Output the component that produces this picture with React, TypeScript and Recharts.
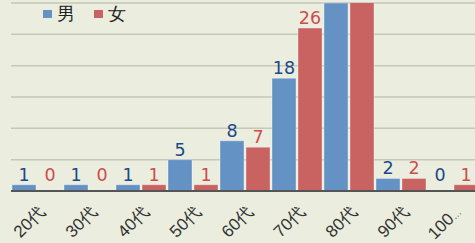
import { BarChart, Bar, XAxis, YAxis, CartesianGrid, LabelList, Legend } from 'recharts'

const categories = ['20代', '30代', '40代', '50代', '60代', '70代', '80代', '90代', '100代以上']
const male = [1, 1, 1, 5, 8, 18, 30, 2, 0]
const female = [0, 0, 1, 1, 7, 26, 34, 2, 1]
const yTicks = [0, 5, 10, 15, 20, 25, 30]
const Y_MAX = 30

const data = categories.map((cat, i) => ({ cat, male: male[i], female: female[i] }))

const BLUE = '#6592c5'
const RED = '#c86361'
const BLUE_TEXT = '#1c4887'
const RED_TEXT = '#cc4d4c'
const FONT = '"Liberation Sans", Arial, sans-serif'
const NUM_FONT = '"DejaVu Sans", sans-serif'

function AxisTick({ x, y, payload }: any) {
  const s: string = payload.value
  const cut = s.length > 4
  return (
    <g transform={`translate(${x + 9},${y + 20})`}>
      <text transform="rotate(-45)" textAnchor="end" fontSize={17} fill="#333" fontFamily={FONT}>
        {cut ? s.slice(0, 3) : s}
        {cut && <tspan fontSize={10}>…</tspan>}
      </text>
    </g>
  )
}

const makeLabel = (color: string) => (props: any) => {
  const { x, y, width, height, value } = props
  // bars that run past the top of the axis get no label
  if (value >= Y_MAX) return null
  const top = Math.min(y, y + height - 6)
  return (
    <text
      x={x + width / 2}
      y={top - 4}
      textAnchor="middle"
      fontSize={17.5}
      fill={color}
      fontFamily={NUM_FONT}
    >
      {value}
    </text>
  )
}

function LegendBox() {
  const items = [
    { name: '男', color: BLUE },
    { name: '女', color: RED },
  ]
  return (
    <div style={{ display: 'flex', alignItems: 'center', fontFamily: FONT }}>
      {items.map((it) => (
        <div key={it.name} style={{ display: 'flex', alignItems: 'center', marginRight: 19 }}>
          <span style={{ width: 9, height: 8, background: it.color, display: 'inline-block', marginRight: 5 }} />
          <span style={{ fontSize: 18, color: '#222', lineHeight: '20px' }}>{it.name}</span>
        </div>
      ))}
    </div>
  )
}

export default function App() {
  return (
    <div
      style={{
        position: 'fixed',
        left: 0,
        top: 0,
        width: 475,
        height: 243,
        overflow: 'hidden',
        background: '#ebeedf',
      }}
    >
      <BarChart
        width={480}
        height={243}
        data={data}
        margin={{ top: 3, right: 1, bottom: 0, left: 11 }}
        barCategoryGap={1}
        barGap={2}
      >
        <CartesianGrid vertical={false} stroke="#c5c7b7" strokeWidth={1.5} />
        <XAxis
          dataKey="cat"
          height={52}
          interval={0}
          tickLine={false}
          tickSize={0}
          axisLine={{ stroke: '#555', strokeWidth: 2 }}
          tick={<AxisTick />}
        />
        <YAxis hide domain={[0, Y_MAX]} ticks={yTicks} allowDataOverflow />
        <Legend
          layout="horizontal"
          verticalAlign="middle"
          align="center"
          wrapperStyle={{ top: 4, left: 43, width: 'auto', height: 'auto' }}
          content={<LegendBox />}
        />
        <Bar dataKey="male" name="男" fill={BLUE} stroke="rgba(255,255,255,0.35)" minPointSize={0.01} isAnimationActive={false}>
          <LabelList dataKey="male" content={makeLabel(BLUE_TEXT)} />
        </Bar>
        <Bar dataKey="female" name="女" fill={RED} stroke="rgba(255,255,255,0.35)" minPointSize={0.01} isAnimationActive={false}>
          <LabelList dataKey="female" content={makeLabel(RED_TEXT)} />
        </Bar>
      </BarChart>
    </div>
  )
}
